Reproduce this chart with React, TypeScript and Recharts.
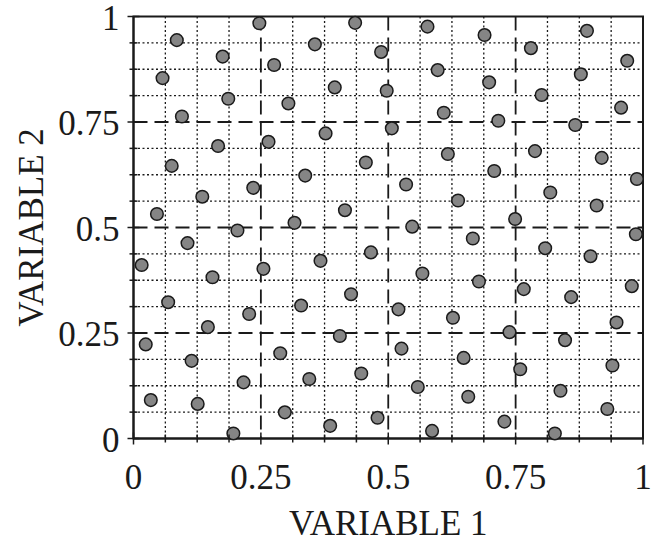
import { ScatterChart, Scatter, XAxis, YAxis, CartesianGrid, ReferenceArea, Label } from 'recharts';

// sample points (variable 1, variable 2)
const var1 = [
  0.247, 0.085, 0.175, 0.276, 0.057, 0.186, 0.304, 0.095, 0.166, 0.265,
  0.435, 0.577, 0.356, 0.486, 0.597, 0.395, 0.497, 0.609, 0.377, 0.507,
  0.617, 0.689, 0.890, 0.780, 0.969, 0.698, 0.878, 0.801, 0.957, 0.716,
  0.867, 0.788, 0.075, 0.235, 0.135, 0.046, 0.316, 0.204, 0.106, 0.016,
  0.255, 0.155, 0.456, 0.337, 0.535, 0.637, 0.415, 0.547, 0.466, 0.367,
  0.567, 0.427, 0.919, 0.708, 0.988, 0.818, 0.909, 0.749, 0.666, 0.986,
  0.808, 0.897, 0.678, 0.766, 0.978, 0.859, 0.068, 0.329, 0.227, 0.146,
  0.024, 0.288, 0.114, 0.216, 0.034, 0.126, 0.297, 0.196, 0.520, 0.627,
  0.405, 0.526, 0.648, 0.345, 0.447, 0.558, 0.657, 0.479, 0.386, 0.586,
  0.948, 0.738, 0.847, 0.759, 0.940, 0.838, 0.930, 0.728, 0.827,
];
const var2 = [
  0.984, 0.944, 0.905, 0.885, 0.854, 0.805, 0.794, 0.763, 0.693, 0.703,
  0.985, 0.976, 0.934, 0.916, 0.873, 0.832, 0.824, 0.772, 0.723, 0.735,
  0.674, 0.956, 0.966, 0.925, 0.895, 0.844, 0.863, 0.814, 0.784, 0.753,
  0.743, 0.681, 0.646, 0.594, 0.573, 0.532, 0.511, 0.493, 0.463, 0.411,
  0.402, 0.382, 0.654, 0.623, 0.602, 0.564, 0.541, 0.502, 0.441, 0.421,
  0.391, 0.342, 0.665, 0.634, 0.615, 0.583, 0.552, 0.520, 0.474, 0.484,
  0.451, 0.432, 0.372, 0.354, 0.361, 0.335, 0.323, 0.315, 0.295, 0.264,
  0.223, 0.202, 0.184, 0.133, 0.091, 0.082, 0.062, 0.012, 0.306, 0.286,
  0.243, 0.213, 0.191, 0.141, 0.154, 0.122, 0.099, 0.049, 0.030, 0.018,
  0.275, 0.252, 0.233, 0.164, 0.173, 0.113, 0.070, 0.040, 0.012,
];

const axisTicks = [0, 0.0625, 0.125, 0.1875, 0.25, 0.3125, 0.375, 0.4375, 0.5, 0.5625, 0.625, 0.6875, 0.75, 0.8125, 0.875, 0.9375, 1];
const majorLines = [0.25, 0.5, 0.75];
const minorLines = [0.0625, 0.125, 0.1875, 0.3125, 0.375, 0.4375, 0.5625, 0.625, 0.6875, 0.8125, 0.875, 0.9375];

const points = var1.map((x, i) => ({ x, y: var2[i] }));

const FONT = '"Liberation Serif", "Times New Roman", serif';
const INK = '#1a1a1a';

const isMajor = (v: number) => Number.isInteger(v * 4);

function XTick({ x, y, payload }: any) {
  const len = isMajor(payload.value) ? 6 : 4;
  return (
    <g>
      <line x1={x} x2={x} y1={y - len} y2={y + len} stroke={INK} strokeWidth={1.5} />
      {isMajor(payload.value) && (
        <text x={x} y={y + 50.5} textAnchor="middle" fontSize={35} fontFamily={FONT} fill={INK}>
          {String(payload.value)}
        </text>
      )}
    </g>
  );
}

function YTick({ x, y, payload }: any) {
  const len = isMajor(payload.value) ? 6 : 4;
  return (
    <g>
      <line x1={x - len} x2={x + len} y1={y} y2={y} stroke={INK} strokeWidth={1.5} />
      {isMajor(payload.value) && (
        <text x={x - 14} y={y + 13} textAnchor="end" fontSize={35} fontFamily={FONT} fill={INK}>
          {String(payload.value)}
        </text>
      )}
    </g>
  );
}

function Dot({ cx, cy }: any) {
  return <circle cx={cx} cy={cy} r={6.3} fill="#858585" stroke={INK} strokeWidth={1.5} />;
}

export default function App() {
  return (
    <div style={{ position: 'absolute', left: 0, top: 0 }}>
      <ScatterChart width={662} height={542} margin={{ top: 16.5, right: 19, bottom: 0, left: 0 }}>
        <CartesianGrid
          horizontalValues={minorLines}
          verticalValues={minorLines}
          stroke={INK}
          strokeWidth={1.3}
          strokeDasharray="2 2.5"
        />
        <CartesianGrid
          horizontalValues={majorLines}
          verticalValues={majorLines}
          stroke={INK}
          strokeWidth={1.8}
          strokeDasharray="14 7"
        />
        <XAxis
          type="number"
          dataKey="x"
          domain={[0, 1]}
          ticks={axisTicks}
          interval={0}
          height={103.5}
          tickSize={0}
          tickMargin={0}
          tickLine={false}
          tick={<XTick />}
          axisLine={{ stroke: INK, strokeWidth: 2 }}
        >
          <Label
            content={({ viewBox }: any) => (
              <text x={viewBox.x + viewBox.width / 2} y={535} textAnchor="middle" fontSize={35} fontFamily={FONT} fill={INK}>
                VARIABLE 1
              </text>
            )}
          />
        </XAxis>
        <YAxis
          type="number"
          dataKey="y"
          domain={[0, 1]}
          ticks={axisTicks}
          interval={0}
          width={133.5}
          tickSize={0}
          tickMargin={0}
          tickLine={false}
          tick={<YTick />}
          axisLine={{ stroke: INK, strokeWidth: 2 }}
        >
          <Label
            content={({ viewBox }: any) => {
              const cy = viewBox.y + viewBox.height / 2;
              return (
                <text
                  x={31}
                  y={cy}
                  transform={`rotate(-90, 31, ${cy})`}
                  textAnchor="middle"
                  dominantBaseline="central"
                  fontSize={35}
                  fontFamily={FONT}
                  fill={INK}
                >
                  VARIABLE 2
                </text>
              );
            }}
          />
        </YAxis>
        <ReferenceArea x1={0} x2={1} y1={0} y2={1} fill="none" stroke={INK} strokeWidth={2} />
        <Scatter data={points} shape={<Dot />} isAnimationActive={false} />
      </ScatterChart>
    </div>
  );
}
